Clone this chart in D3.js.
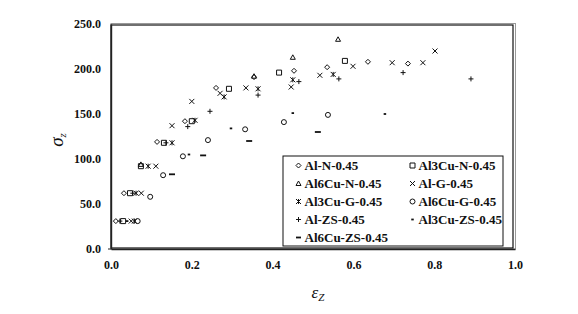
<!DOCTYPE html>
<html>
<head>
<meta charset="utf-8">
<script src="https://cdn.jsdelivr.net/npm/d3@7"></script>
<style>
  html, body { margin: 0; padding: 0; background: #fff; }
  svg { display: block; }
</style>
</head>
<body>
<div id="chart"></div>
<script>
// strain / stress pairs
const alN = [[0.012,31],[0.032,62],[0.114,119],[0.183,142],[0.26,179],[0.354,191],[0.453,198],[0.535,202],[0.636,208],[0.735,206]];
const al3CuN = [[0.03,31],[0.047,62],[0.074,92],[0.131,118],[0.2,142],[0.292,178],[0.416,196],[0.579,209]];
const al6CuN = [[0.074,94],[0.354,192],[0.45,213],[0.562,233]];
const alG = [[0.05,31],[0.075,62],[0.111,92],[0.151,137],[0.2,164],[0.27,173],[0.334,179],[0.446,180],[0.517,193],[0.599,203],[0.696,207],[0.772,207],[0.802,220]];
const al3CuG = [[0.058,31],[0.062,62],[0.092,92],[0.151,118],[0.208,143],[0.28,169],[0.364,178],[0.45,188],[0.55,194]];
const al6CuG = [[0.066,31],[0.097,58],[0.129,82],[0.178,103],[0.24,121],[0.332,133],[0.428,141],[0.537,149]];
const alZS = [[0.022,31],[0.054,62],[0.136,118],[0.19,136],[0.245,153],[0.364,171],[0.465,186],[0.564,189],[0.723,196],[0.891,189]];
const al3CuZS = [[0.04,31],[0.193,105],[0.297,134],[0.45,151],[0.678,150]];
const al6CuZS = [[0.151,83],[0.228,104],[0.342,120],[0.512,130]];

const seriesNames = ["Al-N-0.45","Al3Cu-N-0.45","Al6Cu-N-0.45","Al-G-0.45","Al3Cu-G-0.45","Al6Cu-G-0.45","Al-ZS-0.45","Al3Cu-ZS-0.45","Al6Cu-ZS-0.45"];
const seriesData = [alN, al3CuN, al6CuN, alG, al3CuG, al6CuG, alZS, al3CuZS, al6CuZS];
const markerKinds = ["diamond","square","triangle","x","star","circle","plus","dash","longdash"];

const xTicks = [0, 0.2, 0.4, 0.6, 0.8, 1.0];
const yTicks = [0, 50, 100, 150, 200, 250];

const W = 578, H = 314;
const plot = { left: 111, right: 515, top: 24, bottom: 249 };
const serif = "'Liberation Serif', 'Times New Roman', serif";

const svg = d3.select("#chart").append("svg")
  .attr("width", W).attr("height", H);

const x = d3.scaleLinear().domain([0, 1]).range([plot.left, plot.right]);
const y = d3.scaleLinear().domain([0, 250]).range([plot.bottom, plot.top]);

function markerPath(kind, s) {
  const h = s / 2;
  switch (kind) {
    case "diamond": return `M0,${-h}L${h},0L0,${h}L${-h},0Z`;
    case "square": return `M${-h},${-h}H${h}V${h}H${-h}Z`;
    case "triangle": return `M0,${-h}L${h},${h * 0.8}L${-h},${h * 0.8}Z`;
    case "x": return `M${-h},${-h}L${h},${h}M${-h},${h}L${h},${-h}`;
    case "star": return `M${-h},${-h}L${h},${h}M${-h},${h}L${h},${-h}M0,${-h}V${h}`;
    case "circle": return `M${h},0A${h},${h} 0 1,1 ${-h},0A${h},${h} 0 1,1 ${h},0Z`;
    case "plus": return `M${-h},0H${h}M0,${-h}V${h}`;
    case "dash": return `M${-h * 0.5},0H${h * 0.5}`;
    case "longdash": return `M${-h},0H${h}`;
  }
}

// plot frame: grey outer edge plus dark inner edge
svg.append("rect")
  .attr("x", plot.left).attr("y", plot.top - 0.5)
  .attr("width", plot.right - plot.left + 0.5).attr("height", plot.bottom - plot.top + 0.5)
  .attr("fill", "none").attr("stroke", "#999").attr("stroke-width", 1);
svg.append("rect")
  .attr("x", plot.left).attr("y", plot.top + 1)
  .attr("width", plot.right - plot.left - 2).attr("height", plot.bottom - plot.top - 2)
  .attr("fill", "none").attr("stroke", "#111").attr("stroke-width", 1.2);

// axes
const xAxis = d3.axisBottom(x).tickValues(xTicks).tickSize(0).tickPadding(11)
  .tickFormat(d3.format(".1f"));
const yAxis = d3.axisLeft(y).tickValues(yTicks).tickSize(0).tickPadding(10)
  .tickFormat(d3.format(".1f"));

const gx = svg.append("g").attr("transform", `translate(0,${plot.bottom})`).call(xAxis);
const gy = svg.append("g").attr("transform", `translate(${plot.left},0)`).call(yAxis);
[gx, gy].forEach(g => {
  g.select(".domain").attr("stroke", "#222").attr("stroke-width", 1.4);
  g.selectAll("text").attr("font-family", serif).attr("font-size", "12px")
    .attr("font-weight", "bold").attr("fill", "#111");
});
// small tick at the origin
svg.append("line").attr("x1", plot.left - 3).attr("x2", plot.left)
  .attr("y1", plot.bottom).attr("y2", plot.bottom).attr("stroke", "#222");

// markers
const marks = svg.append("g");
seriesData.forEach((data, i) => {
  marks.selectAll(null).data(data).enter().append("path")
    .attr("transform", d => `translate(${x(d[0])},${y(d[1])})`)
    .attr("d", markerPath(markerKinds[i], markerKinds[i] === "longdash" ? 6 : 5))
    .attr("fill", "none")
    .attr("stroke", "#111")
    .attr("stroke-width", markerKinds[i].includes("dash") ? 1.8 : 1);
});

// legend
const leg = svg.append("g");
leg.append("rect").attr("x", 283).attr("y", 156).attr("width", 220).attr("height", 90)
  .attr("fill", "#fff").attr("stroke", "#111").attr("stroke-width", 1);
seriesNames.forEach((name, i) => {
  const col = i % 2, row = Math.floor(i / 2);
  const lx = col === 0 ? 298.5 : 412.5;
  const ly = 165.5 + row * 18;
  leg.append("path")
    .attr("transform", `translate(${lx},${ly})`)
    .attr("d", markerPath(markerKinds[i], 5))
    .attr("fill", "none").attr("stroke", "#111")
    .attr("stroke-width", markerKinds[i].includes("dash") ? 1.8 : 1);
  leg.append("text")
    .attr("x", lx + 6).attr("y", ly + 4)
    .attr("font-family", serif).attr("font-size", "13px").attr("font-weight", "bold")
    .attr("fill", "#111").text(name);
});

// axis titles
const xt = svg.append("text").attr("x", 318).attr("y", 298)
  .attr("text-anchor", "middle").attr("font-family", serif).attr("font-style", "italic")
  .attr("font-size", "17px").attr("fill", "#111");
xt.append("tspan").text("ε");
xt.append("tspan").attr("font-size", "11px").attr("dy", 3).text("Z");

const yt = svg.append("text")
  .attr("transform", "translate(63,140) rotate(-90)")
  .attr("text-anchor", "middle").attr("font-family", serif).attr("font-style", "italic")
  .attr("font-size", "19px").attr("fill", "#111");
yt.append("tspan").text("σ");
yt.append("tspan").attr("font-size", "11px").attr("dy", 3).text("z");
</script>
</body>
</html>
